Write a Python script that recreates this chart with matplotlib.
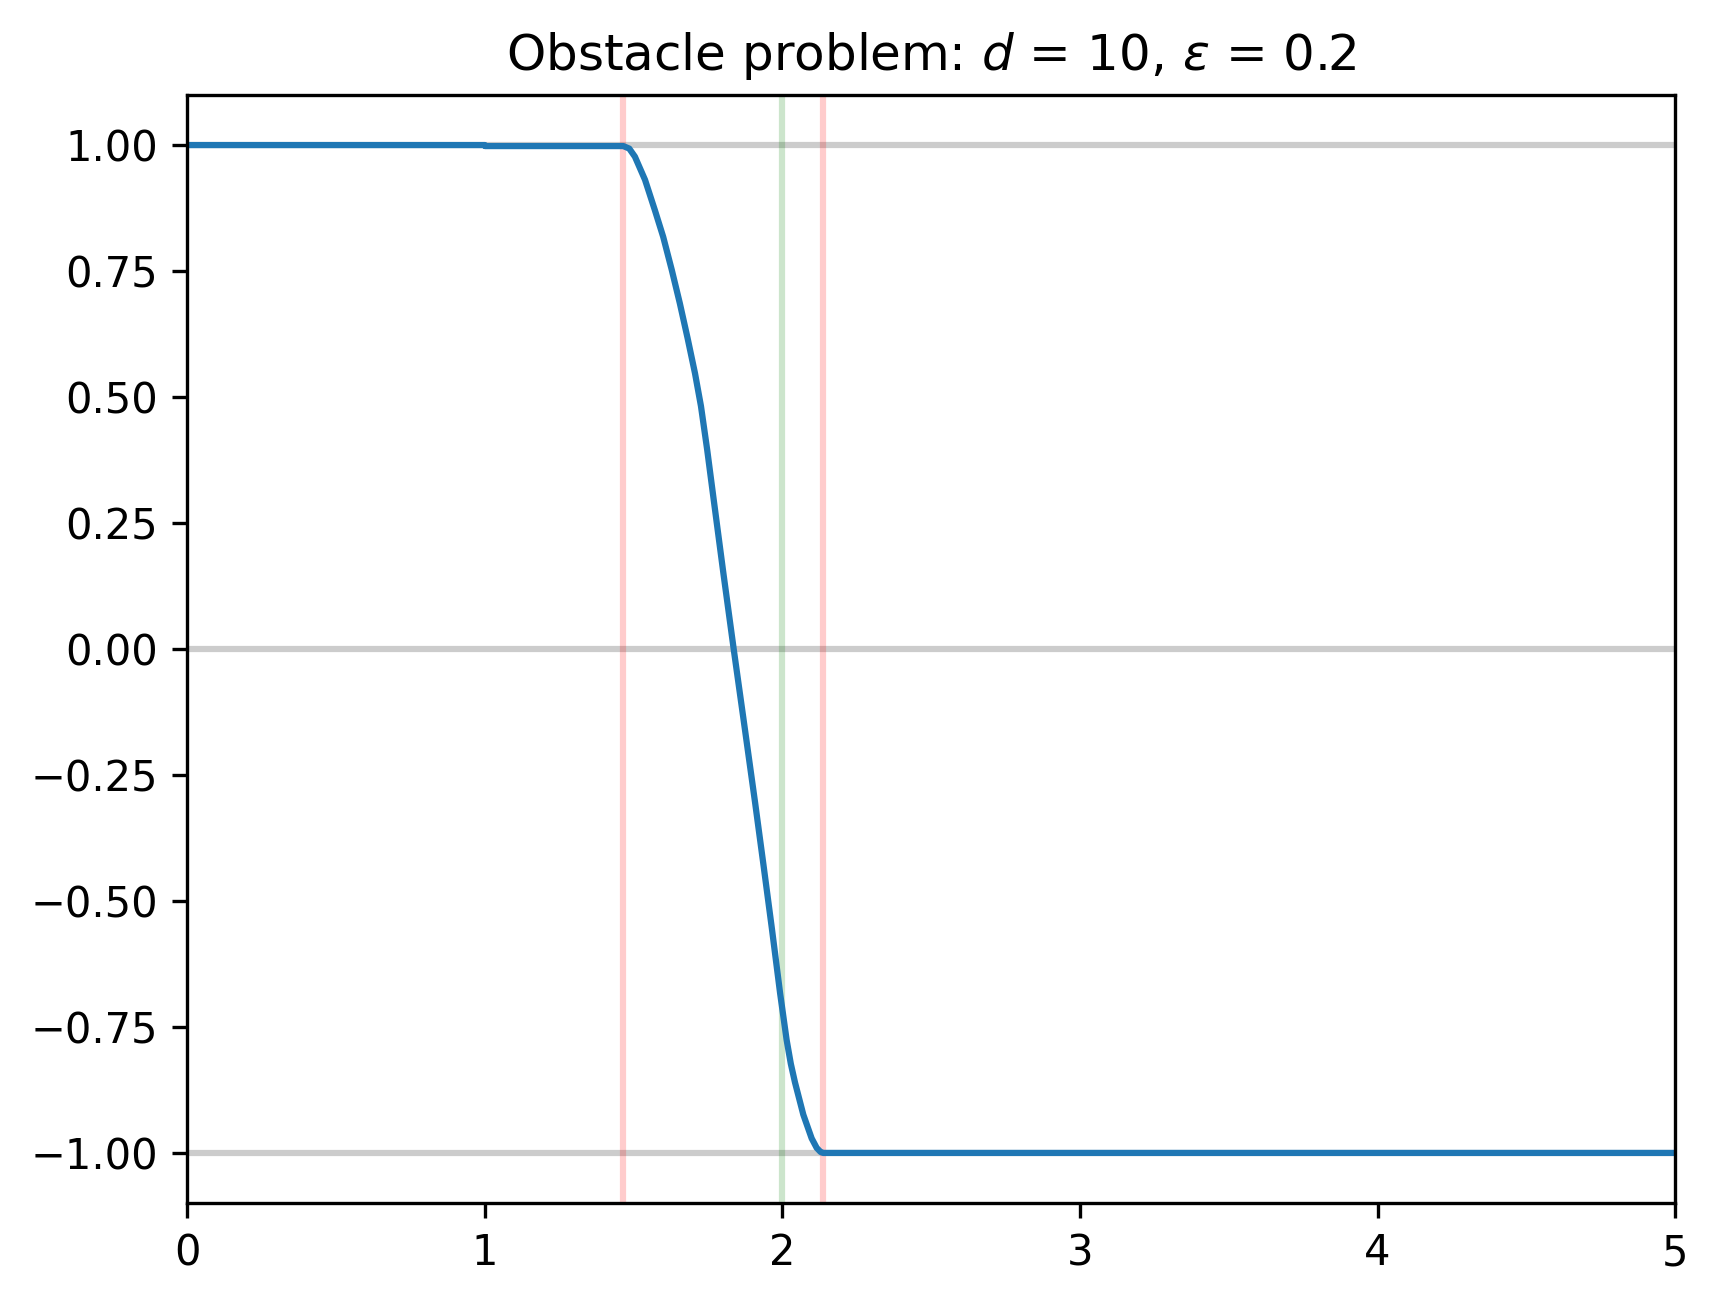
import numpy as np
import matplotlib.pyplot as plt

# curve values
x_vals = [0.0, 1.0, 1.0, 1.465, 1.485, 1.504, 1.538, 1.571, 1.599, 1.628, 1.655,
          1.681, 1.706, 1.726, 1.747, 1.768, 1.801, 1.836, 1.868, 1.908, 1.936,
          1.964, 1.992, 2.014, 2.028, 2.042, 2.070, 2.098, 2.115, 2.128, 2.137, 5.0]
y_vals = [1.0, 1.0, 0.998, 0.998, 0.993, 0.977, 0.931, 0.871, 0.818, 0.752, 0.686,
          0.617, 0.547, 0.482, 0.395, 0.300, 0.152, 0.0, -0.135, -0.305, -0.428,
          -0.553, -0.683, -0.776, -0.823, -0.860, -0.924, -0.971, -0.990, -0.998,
          -1.0, -1.0]

h_levels = [-1.0, 0.0, 1.0]
red_lines = [1.464, 2.136]
green_lines = [2.0]

fig = plt.figure(figsize=(1718 / 300, 1304 / 300), dpi=300)
ax = fig.add_subplot(111)
fig.subplots_adjust(left=0.1091, right=0.975, bottom=0.0772, top=0.9274)

for h in h_levels:
    ax.axhline(h, color="k", alpha=0.2)
for v in red_lines:
    ax.axvline(v, color="r", alpha=0.2)
for v in green_lines:
    ax.axvline(v, color="g", alpha=0.2)

ax.plot(x_vals, y_vals, color="C0")

ax.set_xlim(0, 5)
ax.set_ylim(-1.1, 1.1)
ax.set_yticks([-1.0, -0.75, -0.5, -0.25, 0.0, 0.25, 0.5, 0.75, 1.0])
ax.set_title(r"Obstacle problem: $d$ = 10, $\varepsilon$ = 0.2")

plt.savefig("out.png", dpi=300)
